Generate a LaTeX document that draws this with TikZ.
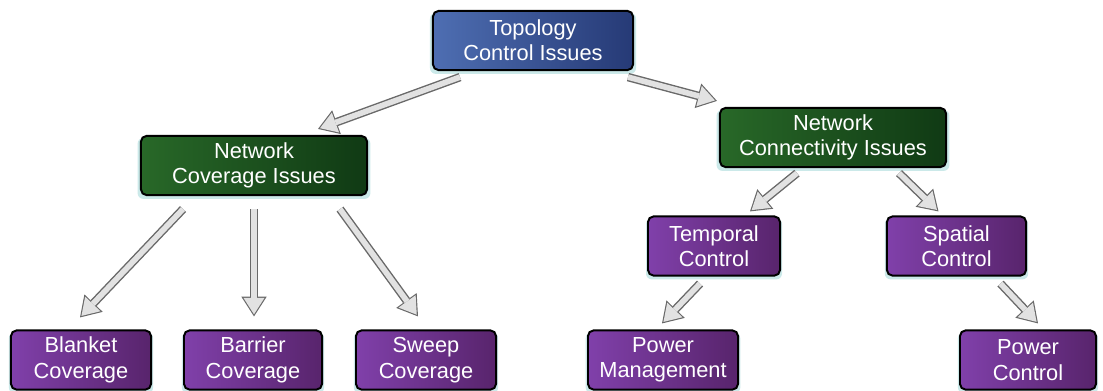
\documentclass[tikz,border=0pt]{standalone}
\usepackage{fontspec}
\setmainfont{Liberation Sans}
\usepackage{tikz}
\definecolor{topblue1}{RGB}{78,110,178}
\definecolor{topblue2}{RGB}{38,58,118}
\definecolor{covgreen1}{RGB}{40,104,40}
\definecolor{covgreen2}{RGB}{16,58,20}
\definecolor{ctrlpurple1}{RGB}{128,64,170}
\definecolor{ctrlpurple2}{RGB}{88,36,108}
\definecolor{glow}{RGB}{190,228,228}
\definecolor{arrowedge}{RGB}{105,105,105}
\definecolor{arrowfill}{RGB}{226,226,226}
\usetikzlibrary{calc}
\usetikzlibrary{shadows}
\usetikzlibrary{arrows.meta}
\tikzset{box/.style={rectangle,rounded corners=4pt,draw=black,line width=1.4pt,
    text=white,align=center,minimum height=1.48cm,inner sep=2pt,
    font=\fontsize{15.5}{18}\selectfont,
    drop shadow={fill=glow,opacity=0.8,shadow xshift=0pt,shadow yshift=-2pt,shadow scale=1.03}}}
\tikzset{topbox/.style={box,left color=topblue1,right color=topblue2}}
\tikzset{covbox/.style={box,left color=covgreen1,right color=covgreen2}}
\tikzset{ctrlbox/.style={box,left color=ctrlpurple1,right color=ctrlpurple2}}
\tikzset{fatarrow/.style={draw=arrowedge,line width=6pt,
    -{Triangle[length=14pt,width=18pt,line width=0pt]},
    postaction={draw=arrowfill,line width=4pt,shorten >=1.5pt,
    -{Triangle[length=11.7pt,width=15pt,line width=0pt]}}}}

\begin{document}
\begin{tikzpicture}[x=0.025cm,y=-0.025cm]
    \useasboundingbox (0,0) rectangle (1103,390);

    % top level
    \node [topbox, minimum width=5cm] (topo) at (533, 40.5) {Topology\\Control Issues};

    % second level
    \node [covbox, minimum width=5.65cm] (cov) at (254, 165.5) {Network\\Coverage Issues};
    \node [covbox, minimum width=5.65cm] (conn) at (833, 137.5) {Network\\Connectivity Issues};

    % third level
    \node [ctrlbox, minimum width=3.3cm] (temporal) at (714, 246) {Temporal\\Control};
    \node [ctrlbox, minimum width=3.48cm] (spatial) at (956.5, 246) {Spatial\\Control};

    % leaves
    \node [ctrlbox, minimum width=3.5cm] (blanket) at (81, 360) {Blanket\\Coverage};
    \node [ctrlbox, minimum width=3.45cm] (barrier) at (253, 360) {Barrier\\Coverage};
    \node [ctrlbox, minimum width=3.5cm] (sweep) at (426, 360) {Sweep\\Coverage};
    \node [ctrlbox, minimum width=3.75cm] (powermgmt) at (663, 360) {Power\\Management};
    \node [ctrlbox, minimum width=3.4cm] (powerctrl) at (1028, 360) {Power\\Control};

    % arrows
    \draw [fatarrow] ($(topo.south)+(-73,6)$) -- ($(cov.north)+(64,-6)$);
    \draw [fatarrow] ($(topo.south)+(95,6)$) -- ($(conn.north west)+(-2,-6)$);

    \draw [fatarrow] ($(cov.south)+(-71,13)$) -- ($(blanket.north)+(-1,-12)$);
    \draw [fatarrow] ($(cov.south)+(0,13)$) -- ($(barrier.north)+(1,-13)$);
    \draw [fatarrow] ($(cov.south)+(86,13)$) -- ($(sweep.north)+(-8,-13)$);

    \draw [fatarrow] ($(conn.south)+(-36,5)$) -- ($(temporal.north)+(36,-4)$);
    \draw [fatarrow] ($(conn.south)+(66,5)$) -- ($(spatial.north)+(-18,-4)$);

    \draw [fatarrow] ($(temporal.south)+(-14,7)$) -- ($(powermgmt.north)+(-1,-6)$);
    \draw [fatarrow] ($(spatial.south)+(44,7)$) -- ($(powerctrl.north)+(10,-6)$);
\end{tikzpicture}
\end{document}
